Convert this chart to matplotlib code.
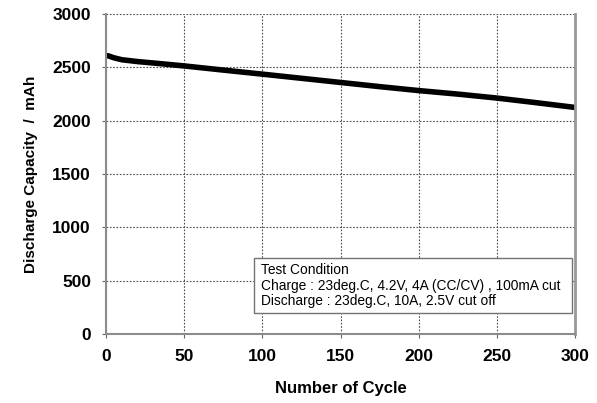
import matplotlib
matplotlib.use("Agg")
import matplotlib.pyplot as plt
from matplotlib.patches import Rectangle

cycles = [1, 5, 10, 20, 35, 50, 75, 100, 125, 150, 175, 200, 225, 250, 275, 300]
capacity = [2610, 2590, 2572, 2555, 2535, 2514, 2475, 2437, 2398, 2359, 2320, 2283, 2250, 2213, 2170, 2125]

xticks = [0, 50, 100, 150, 200, 250, 300]
yticks = [0, 500, 1000, 1500, 2000, 2500, 3000]
cond_lines = ["Test Condition",
              "Charge : 23deg.C, 4.2V, 4A (CC/CV) , 100mA cut",
              "Discharge : 23deg.C, 10A, 2.5V cut off"]

plt.rcParams["font.family"] = ["Liberation Sans Narrow", "Liberation Sans", "DejaVu Sans"]

fig = plt.figure(figsize=(5.97, 4.03), dpi=100)
ax = fig.add_axes([0.178, 0.171, 0.785, 0.794])

ax.plot(cycles, capacity, color="black", lw=4, solid_capstyle="round")

ax.set_xlim(0, 300)
ax.set_ylim(0, 3000)
ax.set_xticks(xticks)
ax.set_yticks(yticks)
ax.tick_params(labelsize=12.5, length=3, color="0.4", pad=8)
for lab in ax.get_xticklabels() + ax.get_yticklabels():
    lab.set_fontweight("bold")
ax.grid(True, ls=(0, (1.5, 1.5)), color="0.3", lw=0.8)
for s in ["left", "bottom"]:
    ax.spines[s].set_color("0.55")
    ax.spines[s].set_linewidth(1.5)
ax.spines["right"].set_color("0.6")
ax.spines["right"].set_linewidth(2)
ax.spines["top"].set_visible(False)

ax.set_xlabel("Number of Cycle", fontsize=12, fontweight="bold", labelpad=12)
ax.set_ylabel("Discharge Capacity  /  mAh", fontsize=11, fontweight="bold", labelpad=10)

# condition box
ax.add_patch(Rectangle((0.316, 0.066), 0.677, 0.172, transform=ax.transAxes,
                       facecolor="white", edgecolor="0.45", lw=1, zorder=3))
ax.text(0.33, 0.222, "\n".join(cond_lines), transform=ax.transAxes,
        fontsize=9.9, va="top", ha="left", linespacing=1.15, zorder=4)

fig.savefig("out.png", dpi=100)
